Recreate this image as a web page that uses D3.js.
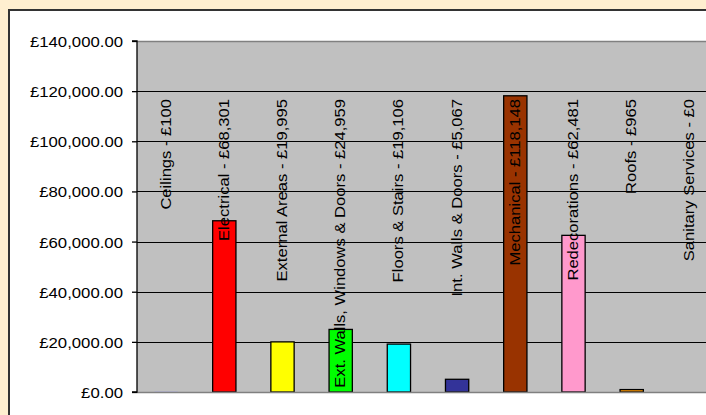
<!DOCTYPE html>
<html>
<head>
<meta charset="utf-8">
<script src="https://cdn.jsdelivr.net/npm/d3@7"></script>
<style>
  html, body { margin: 0; padding: 0; background: #FFEFD0; }
  svg { display: block; }
  text { font-family: "Liberation Sans", Arial, sans-serif; fill: #000; }
</style>
</head>
<body>
<svg id="chart" width="706" height="415"></svg>
<script>
const categories = ["Ceilings", "Electrical", "External Areas", "Ext. Walls, Windows & Doors",
  "Floors & Stairs", "Int. Walls & Doors", "Mechanical", "Redecorations", "Roofs", "Sanitary Services"];
const values = [100, 68301, 19995, 24959, 19106, 5067, 118148, 62481, 965, 0];
const colors = ["#9999FF", "#FF0000", "#FFFF00", "#00FF00", "#00FFFF", "#333399", "#993300", "#FF99CC", "#FF9900", "#CCCCFF"];
const yTicks = [0, 20000, 40000, 60000, 80000, 100000, 120000, 140000];

(function () {
const svg = d3.select("#chart");

// outer white panel with dark border (extends past right/bottom)
svg.append("rect").attr("x", 9).attr("y", 10).attr("width", 720).attr("height", 420)
  .attr("fill", "#FFFFFF").attr("stroke", "#333333").attr("stroke-width", 2);

const pLeft = 137, pTop = 41, pBottom = 392;
const step = 58.2;
const x = d3.scaleBand().domain(categories)
  .range([pLeft, pLeft + step * categories.length])
  .paddingInner(0.6).paddingOuter(0.3);
const y = d3.scaleLinear().domain([0, 140000]).range([pBottom, pTop]);

// plot area
svg.append("rect").attr("x", pLeft).attr("y", pTop).attr("width", 706 - pLeft).attr("height", pBottom - pTop)
  .attr("fill", "#C0C0C0");
svg.append("line").attr("x1", pLeft).attr("x2", 706).attr("y1", pTop + 0.5).attr("y2", pTop + 0.5)
  .attr("stroke", "#808080").attr("stroke-width", 1.5);

// gridlines
svg.append("g").selectAll("line").data(yTicks.filter(t => t > 0 && t < 140000)).join("line")
  .attr("x1", pLeft).attr("x2", 706)
  .attr("y1", d => Math.round(y(d)) + 0.5).attr("y2", d => Math.round(y(d)) + 0.5)
  .attr("stroke", "#000").attr("stroke-width", 1);

// bars
svg.append("g").selectAll("rect").data(values).join("rect")
  .attr("x", (d, i) => x(categories[i]))
  .attr("y", d => y(d))
  .attr("width", x.bandwidth())
  .attr("height", d => pBottom - y(d))
  .attr("fill", (d, i) => colors[i])
  .attr("stroke", "#000").attr("stroke-width", d => (pBottom - y(d)) > 1 ? 1.3 : 0);

// baseline
svg.append("line").attr("x1", pLeft).attr("x2", 706).attr("y1", pBottom + 0.5).attr("y2", pBottom + 0.5)
  .attr("stroke", "#808080").attr("stroke-width", 1.5);

// y axis
const yAxis = d3.axisLeft(y).tickValues(yTicks).tickSize(5).tickPadding(9)
  .tickFormat(d => "£" + d3.format(",.2f")(d));
const ga = svg.append("g").attr("transform", `translate(${pLeft},0)`).call(yAxis);
ga.select(".domain").attr("stroke", "#000").attr("stroke-width", 1.3).attr("d", `M-5,${pTop}H0V${pBottom}H-5`);
ga.selectAll(".tick line").attr("stroke", "#000").attr("stroke-width", 1.3);
ga.selectAll(".tick text")
  .attr("font-size", 15.5).attr("font-family", "Liberation Sans, Arial, sans-serif")
  .attr("fill", "#000")
  .attr("x", null)
  .attr("transform", "translate(-14,0) scale(1.08,1)")
  .attr("dy", "0.35em");

// rotated data labels
const fmt = d3.format(",");
svg.append("g").selectAll("text").data(values).join("text")
  .attr("transform", (d, i) => `translate(${x(categories[i]) + x.bandwidth() / 2 - 1},99) rotate(-90) scale(1.07,1)`)
  .attr("text-anchor", "end")
  .attr("dy", "0.35em")
  .attr("font-size", 15.5)
  .text((d, i) => categories[i] + " - £" + fmt(d));
})();
</script>
</body>
</html>
